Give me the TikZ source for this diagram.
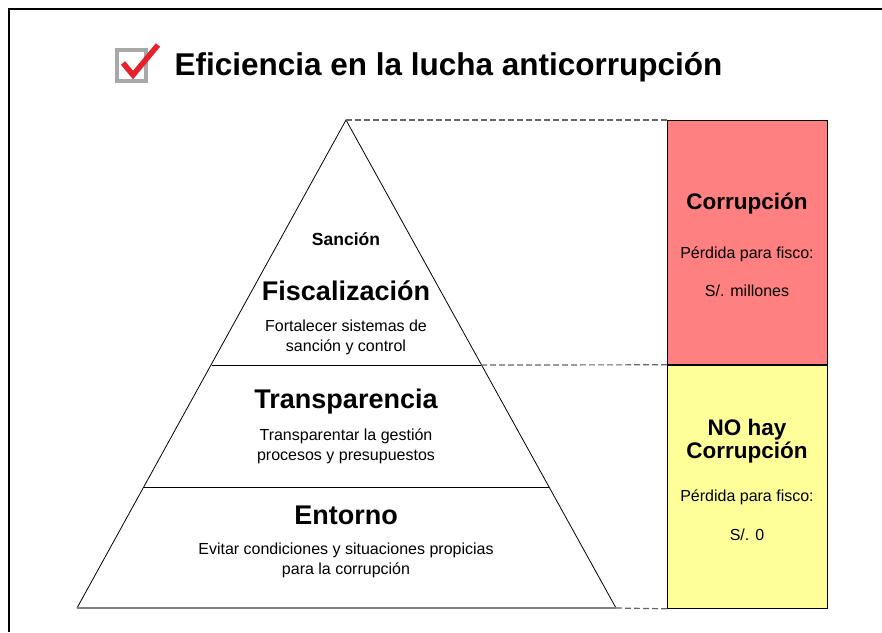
\documentclass[tikz,border=0pt]{standalone}
\usepackage{fontspec}
\setmainfont{Liberation Sans}

\definecolor{corrred}{HTML}{FF8080}
\definecolor{corryellow}{HTML}{FFFF99}
\definecolor{checkred}{HTML}{E8202A}
\definecolor{checkgray}{HTML}{A8A8A8}

\tikzset{
	titletxt/.style={font=\fontsize{31.5}{36}\selectfont\bfseries},
	leveltxt/.style={font=\fontsize{27}{30}\selectfont\bfseries},
	boxtxt/.style={font=\fontsize{22.5}{23}\selectfont\bfseries, align=center},
	smalltxt/.style={font=\fontsize{16}{20}\selectfont, align=center},
	dashlink/.style={black!60, line width=1.2pt, dash pattern=on 6pt off 3pt},
	sidebox/.style={draw=black, line width=0.8pt, anchor=north west, minimum width=160, minimum height=244, inner sep=0pt}
}

\begin{document}
\begin{tikzpicture}[x=1pt, y=-1pt]

	\useasboundingbox (0,0) rectangle (882,632);

	% frame
	\draw[line width=2pt] (9,632) -- (9,9) -- (882,9);

	% title with check box
	\draw[checkgray, line width=4pt] (117,50) rectangle (146,81);
	\draw[checkred, line width=5.5pt, line join=miter] (123,63) -- (133,75) -- (158,45);
	\node[titletxt, anchor=west] (title) at (171,67) {Eficiencia en la lucha anticorrupción};

	% pyramid
	\coordinate (apex) at (346,120);
	\coordinate (baseL) at (77,608);
	\coordinate (baseR) at (616,608);
	\coordinate (midL) at (212,365);
	\coordinate (midR) at (481,365);
	\coordinate (lowL) at (144,487);
	\coordinate (lowR) at (549,487);

	\draw[line width=0.8pt] (baseL) -- (apex) -- (baseR);
	\draw[line width=0.8pt] (midL) -- (midR);
	\draw[line width=0.8pt] (lowL) -- (lowR);
	\draw[gray, line width=1.6pt] (baseL) -- (baseR);

	\node[font=\fontsize{17.5}{20}\selectfont\bfseries] (sancion) at (346,239) {Sanción};
	\node[leveltxt] (fisc) at (346,291) {Fiscalización};
	\node[smalltxt] (fisctxt) at (346,337) {Fortalecer sistemas de\\sanción y control};
	\node[leveltxt] (transp) at (346,402) {Transparencia};
	\node[smalltxt] (transptxt) at (346,446) {Transparentar la gestión\\procesos y presupuestos};
	\node[leveltxt] (entorno) at (346,515) {Entorno};
	\node[smalltxt] (entornotxt) at (346,560) {Evitar condiciones y situaciones propicias\\para la corrupción};

	% side boxes
	\node[sidebox, fill=corrred] (redbox) at (667,120) {};
	\node[sidebox, fill=corryellow, minimum height=243] (yellowbox) at (667,365) {};

	\node[boxtxt] (corr) at (747,204) {Corrupción};
	\node[smalltxt] (perdA) at (747,254) {Pérdida para fisco:};
	\node[smalltxt] (montoA) at (747,291) {S/. millones};

	\node[boxtxt] (nocorr) at (747,441) {NO hay\\Corrupción};
	\node[smalltxt] (perdB) at (747,497) {Pérdida para fisco:};
	\node[smalltxt] (montoB) at (747,535) {S/. 0};

	% dashed links
	\draw[dashlink] (apex) -- (redbox.north west);
	\draw[dashlink] (midR) -- (redbox.south west);
	\draw[dashlink] (baseR) -- (yellowbox.south west);

\end{tikzpicture}
\end{document}
